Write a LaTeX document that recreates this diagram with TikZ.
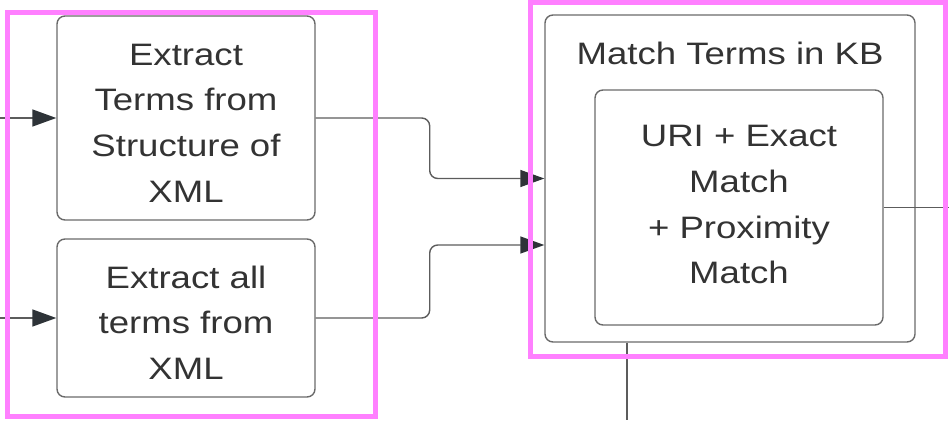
\documentclass[tikz,border=0pt]{standalone}
\usepackage{fontspec}
\setmainfont[FakeStretch=1.18]{Liberation Sans}
\usetikzlibrary{arrows.meta, positioning, calc}
\definecolor{boxline}{HTML}{6A6A6A}
\definecolor{wire}{HTML}{5C5C5C}
\definecolor{tipc}{HTML}{2E3338}
\definecolor{txt}{HTML}{333333}
\definecolor{hl}{HTML}{FF80FF}

\begin{document}
\begin{tikzpicture}[x=1pt, y=-1pt,
    >={Triangle[length=24pt, width=17pt, color=tipc]},
    stepbox/.style={draw=boxline, line width=1.4pt, rounded corners=8pt,
      text=txt, align=center, font=\fontsize{31}{45.7}\selectfont},
    flow/.style={draw=wire, line width=1.4pt, rounded corners=8pt},
    hilite/.style={draw=hl, line width=5pt}]
  \useasboundingbox (0,0) rectangle (949,420);

  % extraction steps
  \node[stepbox, minimum width=258pt, minimum height=204pt] (xstruct)
    at (186,118) {\rule{0pt}{31.5pt}Extract\\Terms from\\Structure of\\XML};
  \node[stepbox, minimum width=258pt, minimum height=158pt] (xall)
    at (186,318) {\rule{0pt}{31.5pt}Extract all\\terms from\\XML};

  % matching in the knowledge base
  \node[stepbox, minimum width=370pt, minimum height=327pt] (kb)
    at (730,178.5) {};
  \node[text=txt, font=\fontsize{31}{45.7}\selectfont] (kbtitle)
    at (730,53) {Match Terms in KB};
  \node[stepbox, minimum width=288pt, minimum height=235pt] (match)
    at (739,207.5) {URI + Exact\\Match\\+ Proximity\\Match\rule[-6pt]{0pt}{6pt}};

  \coordinate (inA) at (0,118);
  \coordinate (inB) at (0,318);
  \coordinate (outR) at (949,207.5);
  \coordinate (outD) at (627,420);

  \draw[flow, ->] (inA) -- (xstruct);
  \draw[flow, ->] (inB) -- (xall);
  \draw[flow, ->] (xstruct.east) -- ++(114,0) |- (kb.west);
  \draw[flow, ->] (xall.east) -- ++(114,0) |- ([yshift=-66.5pt]kb.west);
  \draw[flow] (match.east) -- (outR);
  \draw[flow] (kb.south -| outD) -- (outD);

  % highlight frames
  \draw[hilite] (7,13) rectangle (375,416);
  \draw[hilite] (530,2.5) rectangle (945,356);
\end{tikzpicture}
\end{document}
